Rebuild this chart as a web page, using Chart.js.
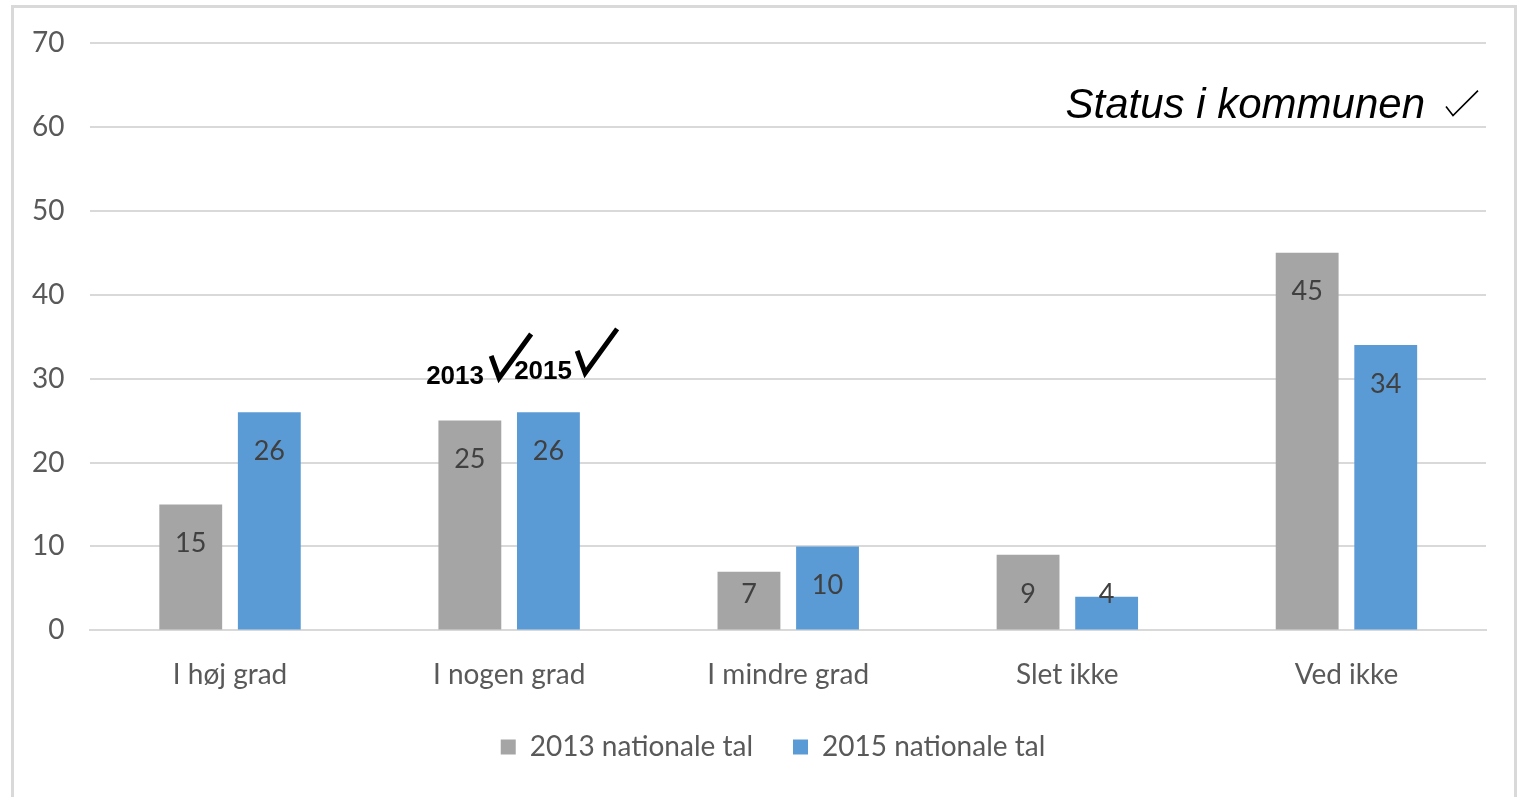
<!DOCTYPE html>
<html>
<head>
<meta charset="utf-8">
<script src="https://cdn.jsdelivr.net/npm/chart.js@4.4.1/dist/chart.umd.min.js"></script>
<style>
    html, body { margin: 0; padding: 0; background: #fff; }
    #frame {
        position: absolute; left: 11px; top: 5px;
        width: 1506px; height: 800px;
        border: 3px solid #d9d9d9; box-sizing: border-box;
    }
    #wrap { position: absolute; left: 0; top: 0; width: 1524px; height: 797px; }
</style>
</head>
<body>
<div id="frame"></div>
<div id="wrap"><canvas id="chart"></canvas></div>
<script>
const categories = ['I høj grad', 'I nogen grad', 'I mindre grad', 'Slet ikke', 'Ved ikke'];
const values2013 = [15, 25, 7, 9, 45];
const values2015 = [26, 26, 10, 4, 34];
const seriesLabels = ['2013 nationale tal', '2015 nationale tal'];
const yTicks = [0, 10, 20, 30, 40, 50, 60, 70];

const labelFont = 'Lato, "Open Sans", sans-serif';

// value labels inside the top of each bar
const barLabels = {
    id: 'barLabels',
    afterDatasetsDraw(chart) {
        const ctx = chart.ctx;
        const base = chart.scales.y.getPixelForValue(0);
        ctx.save();
        ctx.font = '27px ' + labelFont;
        ctx.fillStyle = '#404040';
        ctx.textAlign = 'center';
        ctx.textBaseline = 'middle';
        chart.data.datasets.forEach((ds, i) => {
            chart.getDatasetMeta(i).data.forEach((bar, j) => {
                const y = Math.min(bar.y + 39, base - 36);
                ctx.fillText(String(ds.data[j]), bar.x, y);
            });
        });
        ctx.restore();
    }
};

// legend sits a bit right of the chart centre in the original
const legendShift = {
    id: 'legendShift',
    afterLayout(chart) {
        chart.legend.left += 27;
        chart.legend.right += 27;
    }
};

// hand-written notes on top of the chart
const notes = {
    id: 'notes',
    afterDraw(chart) {
        const ctx = chart.ctx;
        const area = chart.chartArea;
        const y = chart.scales.y;
        const x = chart.scales.x;
        ctx.save();
        ctx.fillStyle = '#000';
        ctx.strokeStyle = '#000';
        ctx.textBaseline = 'alphabetic';

        // Status i kommunen
        ctx.font = 'italic 42px "Liberation Sans", Arial, sans-serif';
        ctx.textAlign = 'right';
        ctx.fillText('Status i kommunen', area.right - 61, y.getPixelForValue(61.0));
        ctx.lineWidth = 1.6;
        const cx = area.right - 40, cy = y.getPixelForValue(62.4);
        ctx.beginPath();
        ctx.moveTo(cx, cy);
        ctx.lineTo(cx + 7, cy + 9);
        ctx.lineTo(cx + 32, cy - 16);
        ctx.stroke();

        // 2013 / 2015 ticks
        const gx = x.getPixelForValue(1);
        ctx.font = 'bold 26px "Liberation Sans", Arial, sans-serif';
        ctx.textAlign = 'left';
        ctx.fillText('2013', gx - 83, y.getPixelForValue(29.3));
        ctx.fillText('2015', gx + 5, y.getPixelForValue(29.9));
        ctx.lineWidth = 5;
        ctx.lineJoin = 'miter';
        const check = (px, py, s) => {
            ctx.beginPath();
            ctx.moveTo(px, py);
            ctx.lineTo(px + 8 * s, py + 22 * s);
            ctx.lineTo(px + 40 * s, py - 22 * s);
            ctx.stroke();
        };
        check(gx - 18, y.getPixelForValue(32.7), 1);
        check(gx + 68, y.getPixelForValue(33.3), 1);
        ctx.restore();
    }
};

new Chart(document.getElementById('chart'), {
    type: 'bar',
    data: {
        labels: categories,
        datasets: [
            { label: seriesLabels[0], data: values2013, backgroundColor: '#a5a5a5' },
            { label: seriesLabels[1], data: values2015, backgroundColor: '#5b9bd5' }
        ]
    },
    options: {
        responsive: true,
        maintainAspectRatio: false,
        animation: false,
        categoryPercentage: 0.563,
        barPercentage: 0.8,
        layout: { padding: { left: 6, right: 38, top: 37, bottom: 26 } },
        scales: {
            x: {
                grid: { display: false },
                border: { display: true, color: '#d9d9d9', width: 2 },
                ticks: { color: '#595959', font: { family: labelFont, size: 28 }, padding: 20 },
                afterFit(scale) { scale.height -= 19; }
            },
            y: {
                min: 0,
                max: 70,
                afterBuildTicks(axis) { axis.ticks = yTicks.map(v => ({ value: v })); },
                grid: { color: '#d9d9d9', lineWidth: 2, drawTicks: false },
                border: { display: false },
                ticks: { color: '#595959', font: { family: labelFont, size: 28 }, padding: 26 }
            }
        },
        plugins: {
            legend: {
                position: 'bottom',
                labels: {
                    color: '#595959',
                    font: { family: labelFont, size: 28 },
                    boxWidth: 15,
                    boxHeight: 15,
                    padding: 40
                }
            },
            tooltip: { enabled: false }
        }
    },
    plugins: [barLabels, legendShift, notes]
});
</script>
</body>
</html>
